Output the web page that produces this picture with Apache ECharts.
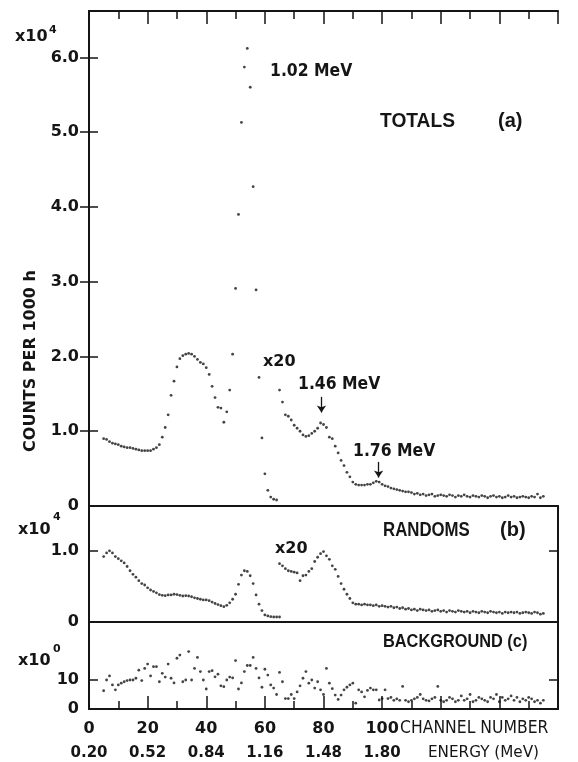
<!DOCTYPE html>
<html>
<head>
<meta charset="utf-8">
<script src="https://cdn.jsdelivr.net/npm/echarts@6/dist/echarts.min.js"></script>
<style>
  html, body { margin: 0; background: #fff; }
  #main { width: 578px; height: 762px; }
</style>
</head>
<body>
<div id="main"></div>
<script>
// counts per 1000 h, one point per channel; the "Start" value is the first channel of each run
const totalsStart = 5;
const totals = [
  0.90, 0.89, 0.86, 0.84, 0.83, 0.82, 0.80, 0.79, 0.78, 0.78,
  0.77, 0.76, 0.75, 0.74, 0.74, 0.74, 0.74, 0.76, 0.78, 0.82,
  0.92, 1.05, 1.22, 1.48, 1.67, 1.86, 1.97, 2.01, 2.03, 2.04,
  2.03, 2.00, 1.96, 1.92, 1.90, 1.85, 1.76, 1.60, 1.45, 1.32,
  1.31, 1.12, 1.26, 1.55, 2.03, 2.91, 3.90, 5.13, 5.87, 6.12,
  5.60, 4.27, 2.89, 1.72, 0.91, 0.43, 0.21, 0.12, 0.09, 0.08
];
const totalsX20Start = 65;
const totalsX20 = [
  1.55, 1.39, 1.22, 1.20, 1.15, 1.08, 1.04, 1.00, 0.95, 0.93,
  0.94, 0.97, 1.00, 1.04, 1.11, 1.09, 1.05, 0.92, 0.90, 0.80,
  0.71, 0.61, 0.54, 0.45, 0.39, 0.32, 0.29, 0.28, 0.28, 0.28,
  0.29, 0.29, 0.31, 0.33, 0.32, 0.29, 0.27, 0.26, 0.24, 0.23,
  0.22, 0.21, 0.20, 0.19, 0.19, 0.18, 0.16, 0.17, 0.15, 0.16,
  0.14, 0.15, 0.16, 0.13, 0.14, 0.15, 0.14, 0.13, 0.15, 0.14,
  0.12, 0.14, 0.13, 0.15, 0.13, 0.12, 0.14, 0.13, 0.12, 0.14,
  0.13, 0.11, 0.13, 0.14, 0.12, 0.13, 0.11, 0.12, 0.14, 0.12,
  0.13, 0.11, 0.12, 0.13, 0.12, 0.11, 0.13, 0.12, 0.16, 0.11, 0.13
];
const randomsStart = 5;
const randoms = [
  0.92, 0.97, 1.00, 0.97, 0.92, 0.89, 0.86, 0.83, 0.78, 0.72,
  0.67, 0.63, 0.58, 0.54, 0.52, 0.48, 0.45, 0.43, 0.41, 0.385,
  0.375, 0.37, 0.38, 0.38, 0.39, 0.385, 0.375, 0.365, 0.37, 0.365,
  0.355, 0.34, 0.33, 0.32, 0.31, 0.31, 0.30, 0.28, 0.26, 0.245,
  0.23, 0.215, 0.235, 0.27, 0.32, 0.39, 0.53, 0.66, 0.72, 0.71,
  0.65, 0.54, 0.38, 0.25, 0.16, 0.10, 0.085, 0.075, 0.07, 0.07, 0.07
];
const randomsX20Start = 65;
const randomsX20 = [
  0.82, 0.79, 0.75, 0.72, 0.71, 0.70, 0.69, 0.58, 0.65, 0.66,
  0.71, 0.75, 0.85, 0.91, 0.96, 0.99, 0.93, 0.88, 0.79, 0.74,
  0.64, 0.54, 0.46, 0.39, 0.33, 0.27, 0.25, 0.25, 0.24, 0.25,
  0.24, 0.24, 0.23, 0.24, 0.22, 0.23, 0.22, 0.21, 0.22, 0.20,
  0.21, 0.19, 0.20, 0.18, 0.19, 0.17, 0.18, 0.16, 0.18, 0.17,
  0.16, 0.17, 0.15, 0.16, 0.17, 0.15, 0.16, 0.14, 0.16, 0.15,
  0.14, 0.16, 0.15, 0.14, 0.15, 0.13, 0.15, 0.14, 0.13, 0.15,
  0.14, 0.13, 0.15, 0.14, 0.13, 0.14, 0.12, 0.14, 0.13, 0.14,
  0.13, 0.14, 0.12, 0.13, 0.14, 0.13, 0.12, 0.14, 0.13, 0.11, 0.12
];
const backgroundStart = 5;
const background = [
  6.3, 10, 11.4, 8.3, 6.6, 8.3, 8.9, 9.4, 9.8, 10,
  10, 10.6, 13.4, 9.8, 14, 15.5, 11.4, 14.6, 14.6, 9.4,
  12.3, 11, 15.5, 10.6, 9, 17.5, 18.6, 9.4, 10, 19.8,
  10, 14, 17.8, 12.9, 10, 6.9, 12.9, 13.2, 11.1, 12,
  8, 7.7, 10, 11, 10.7, 16.7, 6.9, 9, 12.9, 15,
  15, 17.8, 14, 10.7, 7.5, 13.7, 11.7, 8.3, 7.2, 5,
  12.6, 9.4, 3.6, 3.6, 5, 3.6, 5.9, 8, 10.6, 12.9,
  8.9, 10, 7.2, 9.4, 6.6, 5, 14, 8.9, 7, 4.8,
  3.3, 4.8, 6.6, 7.5, 8.3, 8.9, 2, 6.6, 5.9, 4.2,
  6.4, 7.2, 6.6, 6.6, 3.1, 3.6, 6.6, 3.6, 4, 3,
  3.5, 3, 7.8, 3, 2.5, 3, 3.5, 4, 5, 3.5,
  3, 2.8, 3.5, 4, 7.8, 3, 2.5, 3, 4, 3.5,
  2.5, 3, 4.5, 3, 3.5, 5, 2.5, 3, 4, 3.5,
  3, 2.5, 4, 3.5, 5, 2.5, 4, 3, 3.5, 4.5,
  3, 4, 2.5, 3.5, 3, 4, 3.5, 2.5, 3, 2, 3
];

const channelTicks = [0, 20, 40, 60, 80, 100];
const energyTicks = ['0.20', '0.52', '0.84', '1.16', '1.48', '1.80'];
const totalsTicks = [0, 1, 2, 3, 4, 5, 6];
const randomsTicks = [0, 1];
const backgroundTicks = [0, 10];

const INK = '#151515';
const FONT = 'DejaVu Sans';
const WORDS = 'Liberation Sans';

function pairs(start, vals) {
  return vals.map((v, i) => [start + i, v]);
}

function yAxes(g, max, ticks, fmt) {
  const base = {
    type: 'value', gridIndex: g, min: 0, max: max,
    axisLine: { show: true, lineStyle: { color: INK, width: 2 } },
    axisTick: { show: true, inside: true, length: 9, customValues: ticks.filter(t => t > 0),
      lineStyle: { color: INK, width: 1.5 } },
    splitLine: { show: false }
  };
  return [
    Object.assign({}, base, { position: 'left',
      axisLabel: { customValues: ticks, formatter: fmt, margin: 10, color: INK,
        fontFamily: FONT, fontWeight: 'bold', fontSize: 16 } }),
    Object.assign({}, base, { position: 'right', axisLabel: { show: false } })
  ];
}

function plainX(g, pos) {
  return {
    type: 'value', gridIndex: g, position: pos, min: 0, max: 160, interval: 20,
    axisLine: { show: true, onZero: false, lineStyle: { color: INK, width: 2 } },
    axisTick: { show: false }, axisLabel: { show: false }, splitLine: { show: false }
  };
}

function tickedX(g, pos) {
  return Object.assign(plainX(g, pos), {
    axisTick: { show: true, inside: true, length: 13, lineStyle: { color: INK, width: 1.5 } },
    minorTick: { show: true, splitNumber: 2, length: 8, lineStyle: { color: INK, width: 1.5 } }
  });
}

const bottomX = tickedX(2, 'bottom');
bottomX.axisLabel = {
  show: true, customValues: channelTicks, margin: 8, color: INK,
  formatter: v => '{n|' + v + '}\n{e|' + energyTicks[channelTicks.indexOf(v)] + '}',
  rich: {
    n: { fontFamily: FONT, fontWeight: 'bold', fontSize: 16, lineHeight: 24, color: INK },
    e: { fontFamily: FONT, fontWeight: 'bold', fontSize: 15, lineHeight: 24, color: INK }
  }
};

const dot = { symbol: 'circle', symbolSize: 2.8, itemStyle: { color: INK }, silent: true };

// free text; sx squeezes the lettering sideways like the original hand lettering
function txt(x, y, text, font, sx) {
  return {
    type: 'text', x: x, y: y, scaleX: sx || 1, silent: true,
    style: { text: text, fill: INK, textVerticalAlign: 'middle', font: font }
  };
}
const bold = (size, fam) => 'bold ' + size + 'px "' + (fam || FONT) + '"';

const chart = echarts.init(document.getElementById('main'));
chart.setOption({
  animation: false,
  backgroundColor: '#fff',
  grid: [
    { left: 89, right: 20, top: 11, height: 495 },
    { left: 89, right: 20, top: 506, height: 116 },
    { left: 89, right: 20, top: 622, height: 87 }
  ],
  xAxis: [plainX(0, 'bottom'), tickedX(0, 'top'), plainX(1, 'bottom'), bottomX],
  yAxis: [].concat(
    yAxes(0, 6.62, totalsTicks, v => v === 0 ? '0' : (v > 6.01 ? '' : v.toFixed(1))),
    yAxes(1, 1.63, randomsTicks, v => v === 0 ? '0' : (v > 1.01 ? '' : v.toFixed(1))),
    yAxes(2, 30, backgroundTicks, v => v === 0 ? '0' : (v > 10 ? '' : String(v)))
  ),
  series: [
    Object.assign({ type: 'scatter', xAxisIndex: 0, yAxisIndex: 0, data: pairs(totalsStart, totals) }, dot),
    Object.assign({ type: 'scatter', xAxisIndex: 0, yAxisIndex: 0, data: pairs(totalsX20Start, totalsX20),
      markLine: {
        silent: true, symbol: ['none', 'arrow'], symbolSize: 7,
        label: { show: false },
        lineStyle: { color: INK, width: 1.3, type: 'solid' },
        data: [
          [{ coord: [79.3, 1.46] }, { coord: [79.3, 1.25] }],
          [{ coord: [98.8, 0.59] }, { coord: [98.8, 0.38] }]
        ]
      } }, dot),
    Object.assign({ type: 'scatter', xAxisIndex: 2, yAxisIndex: 2, data: pairs(randomsStart, randoms) }, dot),
    Object.assign({ type: 'scatter', xAxisIndex: 2, yAxisIndex: 2, data: pairs(randomsX20Start, randomsX20) }, dot),
    Object.assign({ type: 'scatter', xAxisIndex: 3, yAxisIndex: 4, data: pairs(backgroundStart, background) }, dot)
  ],
  graphic: [
    txt(15, 37, 'x10', bold(16)),
    txt(49, 30, '4', bold(11)),
    txt(18, 530, 'x10', bold(16)),
    txt(53, 517, '4', bold(11)),
    txt(18, 661, 'x10', bold(16)),
    txt(53, 649, '0', bold(11)),
    { type: 'text', x: 31, y: 361, rotation: Math.PI / 2, silent: true,
      style: { text: 'COUNTS PER 1000 h', fill: INK, textAlign: 'center', textVerticalAlign: 'middle',
        font: bold(16) } },
    txt(270, 72, '1.02 MeV', bold(17), 0.92),
    txt(380, 121, 'TOTALS', bold(20, WORDS), 0.96),
    txt(498, 121, '(a)', bold(20, WORDS)),
    txt(263, 362, 'x20', bold(16)),
    txt(298, 385, '1.46 MeV', bold(17), 0.92),
    txt(353, 452, '1.76 MeV', bold(17), 0.92),
    txt(383, 530, 'RANDOMS', bold(20, WORDS), 0.84),
    txt(500, 530, '(b)', bold(20, WORDS)),
    txt(275, 549, 'x20', bold(16)),
    txt(383, 642, 'BACKGROUND (c)', bold(19, WORDS), 0.86),
    txt(400, 729, 'CHANNEL NUMBER', '17px "' + FONT + '"', 0.92),
    txt(428, 753, 'ENERGY (MeV)', '16px "' + FONT + '"', 0.95)
  ]
});
</script>
</body>
</html>
